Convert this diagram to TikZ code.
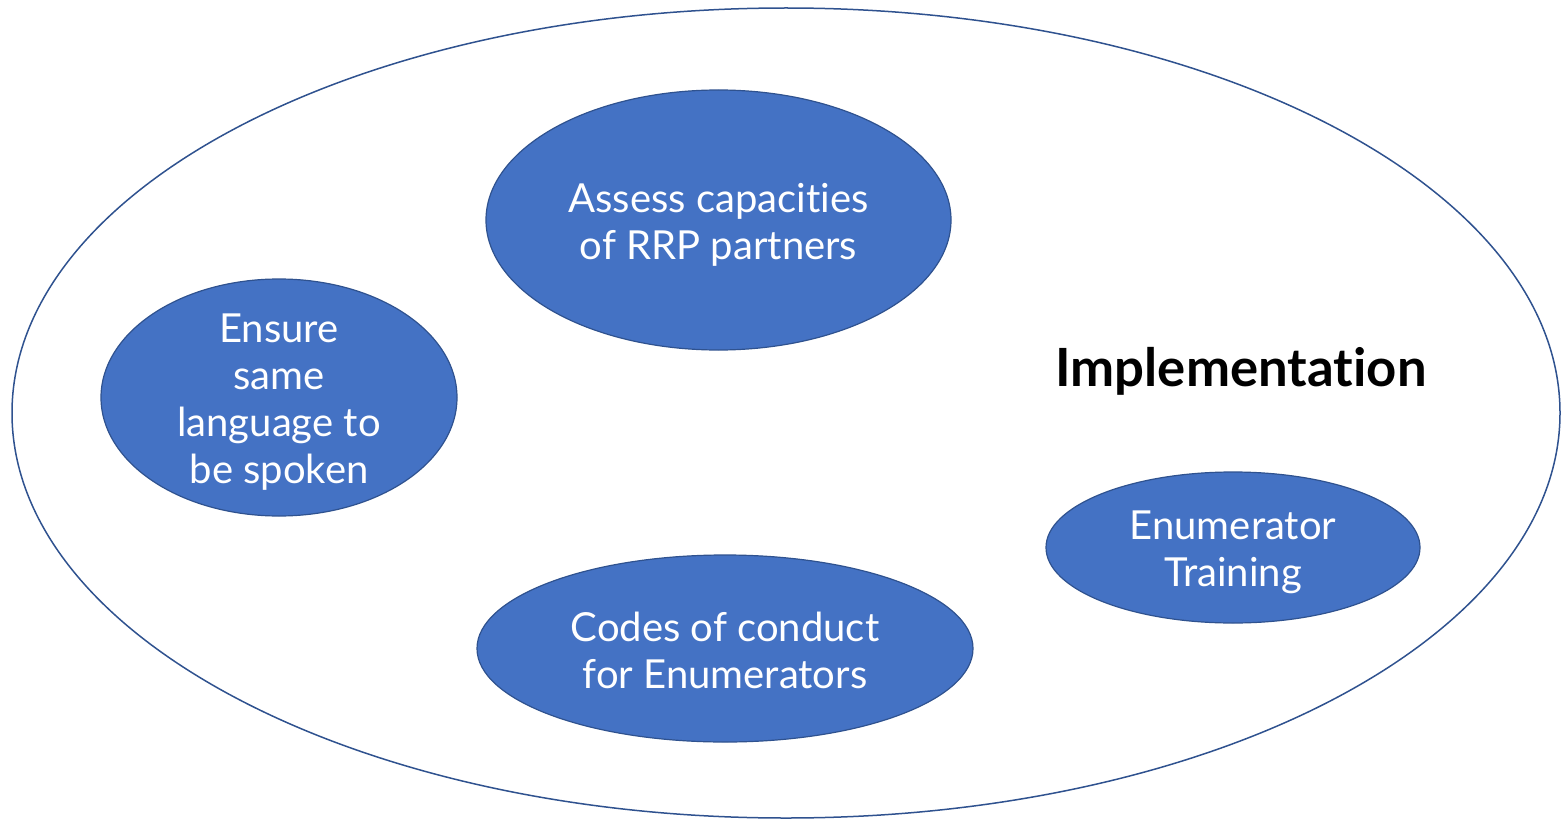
\documentclass[tikz,border=0pt]{standalone}
\usepackage{fontspec}
\setmainfont{Lato}[Ligatures=CommonOff]
\usetikzlibrary{shapes.geometric}
\definecolor{fillblue}{HTML}{4472C4}
\definecolor{edgeblue}{HTML}{2F528F}
\tikzset{
  bubble/.style={ellipse, draw=edgeblue, line width=1.2pt, fill=fillblue, inner sep=0pt},
  bubbletext/.style={text=white, inner sep=0pt, align=center, font=\fontsize{40}{47}\selectfont},
}
\begin{document}
\begin{tikzpicture}[x=1pt,y=-1pt]
\useasboundingbox (0,0) rectangle (1562,821);
\node[ellipse, draw=edgeblue, line width=1.5pt, minimum width=1548pt, minimum height=810pt, inner sep=0pt] (outer) at (786,413) {};
\node[bubble, minimum width=465pt, minimum height=260pt] (assess) at (718.5,220) {};
\node[bubble, minimum width=356pt, minimum height=237pt] (ensure) at (279,397.5) {};
\node[bubble, minimum width=496pt, minimum height=187pt] (codes) at (725,648.5) {};
\node[bubble, minimum width=374pt, minimum height=151pt] (enum) at (1233,547.5) {};
\node[bubbletext] (assesst) at ([yshift=-5pt]assess.center) {Assess capacities\\of RRP partners};
\node[bubbletext] (ensuret) at ([yshift=-5pt]ensure.center) {Ensure\\same\\language to\\be spoken};
\node[bubbletext] (codest) at ([yshift=-2pt]codes.center) {Codes of conduct\\for Enumerators};
\node[bubbletext] (enumt) at ([yshift=-5pt]enum.center) {Enumerator\\Training};
\node[font=\fontsize{52.7}{60}\selectfont\bfseries, text=black, inner sep=0pt] (impl) at (1241,371) {Implementation};
\end{tikzpicture}
\end{document}
